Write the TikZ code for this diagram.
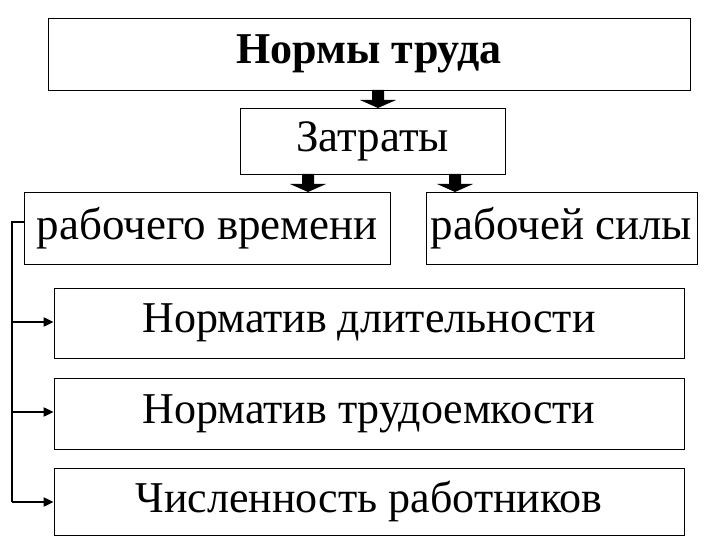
\documentclass[tikz,border=0pt]{standalone}
\usepackage{fontspec}
\setmainfont{Liberation Serif}
\usetikzlibrary{arrows.meta}
\begin{document}
\begin{tikzpicture}[x=1pt,y=-1pt,
 box/.style={draw,line width=0.8pt,inner sep=0pt,font=\fontsize{45}{50}\selectfont},
 nbox/.style={box,font=\fontsize{44}{50}\selectfont},
 fat/.pic={\fill (-6,-9) -- (6,-9) -- (6,1) -- (18,1) -- (0,9) -- (-18,1) -- (-6,1) -- cycle;},
 link/.style={line width=2pt,-{Triangle[length=10pt,width=9pt]}}]
\useasboundingbox (0,0) rectangle (720,540);
\node[box,minimum width=642pt,minimum height=72pt,font=\fontsize{44}{48}\selectfont\bfseries] (top) at (369,54) {Нормы труда};
\node[box,minimum width=265pt,minimum height=66pt] (zat) at (372.5,141) {Затраты};
\node[box,minimum width=366pt,minimum height=72pt] (rv) at (207,228) {рабочего времени};
\node[box,minimum width=271pt,minimum height=72pt] (rs) at (561.5,228) {рабочей силы};
\node[nbox,minimum width=630pt,minimum height=70pt] (n1) at (369,323) {Норматив длительности};
\node[nbox,minimum width=630pt,minimum height=71pt] (n2) at (369,413.5) {Норматив трудоемкости};
\node[nbox,minimum width=630pt,minimum height=67pt] (n3) at (369,501.5) {Численность работников};
\pic at (378,99) {fat};
\pic at (308,183) {fat};
\pic at (455,183) {fat};
\coordinate (c0) at (12,222);
\coordinate (c3) at (12,502);
\draw[line width=2pt] (rv.west|-c0) -- (c0) -- (c3);
\draw[link] (12,322) -- (n1.west|-0,322);
\draw[link] (12,412) -- (n2.west|-0,412);
\draw[link] (c3) -- (n3.west|-c3);
\end{tikzpicture}
\end{document}
